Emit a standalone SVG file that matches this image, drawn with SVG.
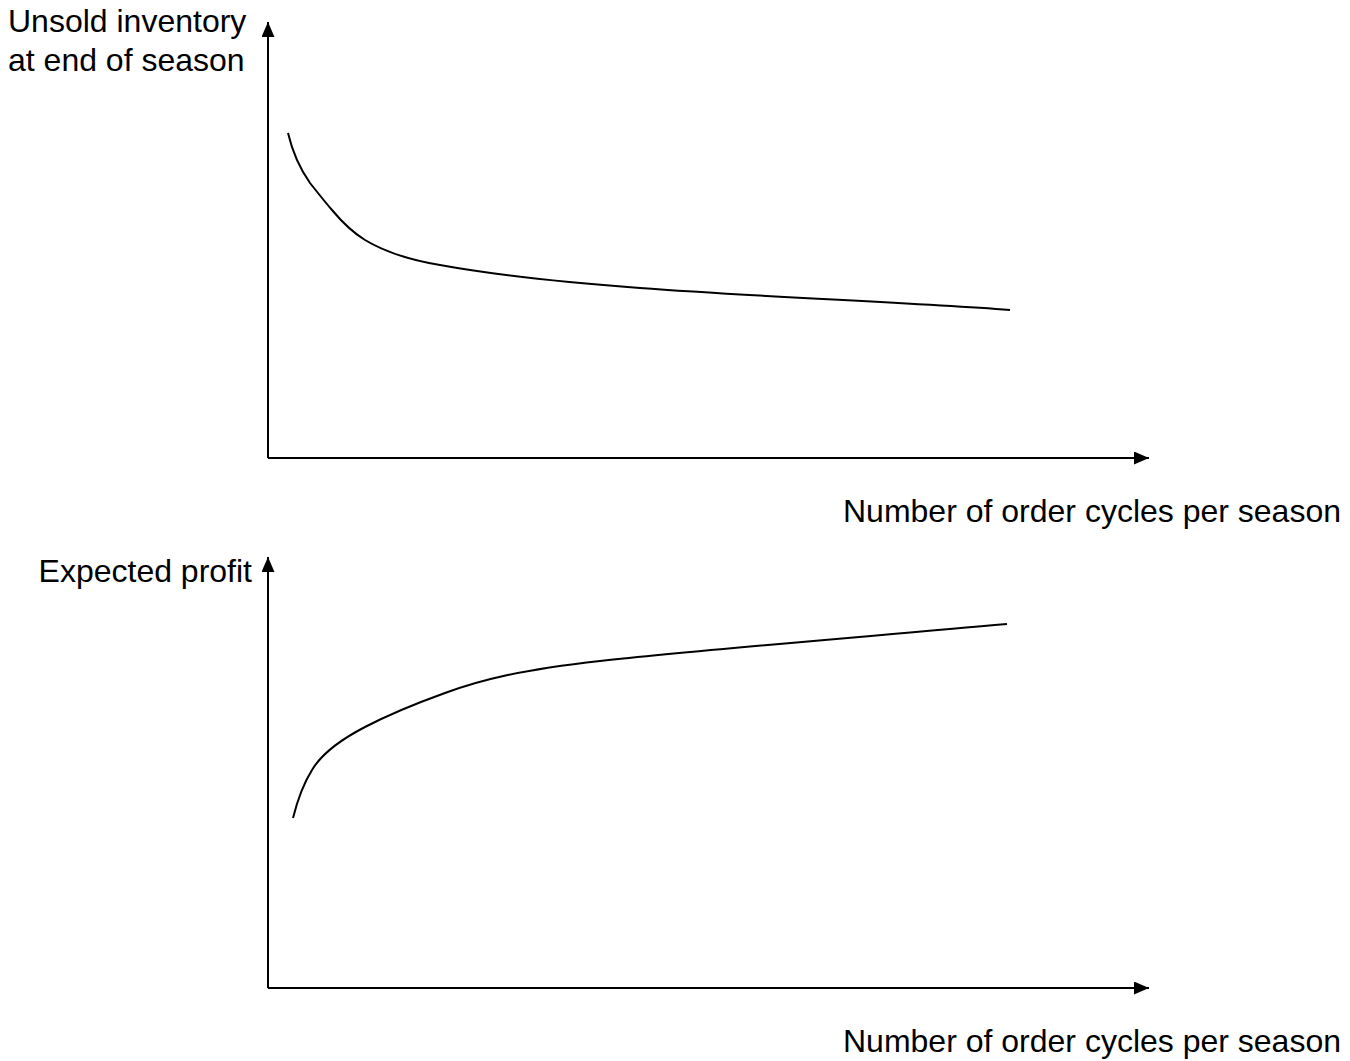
<svg xmlns="http://www.w3.org/2000/svg" width="1350" height="1061" viewBox="0 0 1350 1061">
<style>
.t{font-family:"Liberation Sans",Arial,sans-serif;font-size:32px;fill:#000}
.ax{stroke:#000;stroke-width:2;fill:none}
.cv{stroke:#000;stroke-width:2;fill:none}
</style>
<defs>
<marker id="ah" markerWidth="15" markerHeight="13" refX="15" refY="6.5" orient="auto" markerUnits="userSpaceOnUse">
<path d="M0,0 L15,6.5 L0,13 Z" fill="#000"/>
</marker>
</defs>
<rect width="1350" height="1061" fill="#fff"/>
<g id="connectors">
<line class="ax" x1="268" y1="458" x2="268" y2="22" marker-end="url(#ah)"/>
<line class="ax" x1="268" y1="458" x2="1149" y2="458" marker-end="url(#ah)"/>
<line class="ax" x1="268" y1="988" x2="268" y2="557" marker-end="url(#ah)"/>
<line class="ax" x1="268" y1="988" x2="1149" y2="988" marker-end="url(#ah)"/>
</g>
<g id="curve-top">
<path class="cv" d="M288,133 C292,150 298,166 310,183 C318,193 325,202 332,210 C342,222 352,232 365,240 C385,252 410,260 440,265 C500,276 560,282 640,288 C760,297 900,302 1010,310"/>
</g>
<g id="curve-bottom">
<path class="cv" d="M293,818 C297,802 302,786 312,770 C322,753 340,740 365,727 C390,714 420,702 445,693 C480,680 520,670 600,661 C700,650 850,638 1007,624"/>
</g>
<g id="labels">
<text class="t" x="8" y="32">Unsold inventory</text>
<text class="t" x="8" y="71">at end of season</text>
<text class="t" x="1341" y="522" text-anchor="end">Number of order cycles per season</text>
<text class="t" x="252" y="582" text-anchor="end">Expected profit</text>
<text class="t" x="1341" y="1052" text-anchor="end">Number of order cycles per season</text>
</g>
</svg>
